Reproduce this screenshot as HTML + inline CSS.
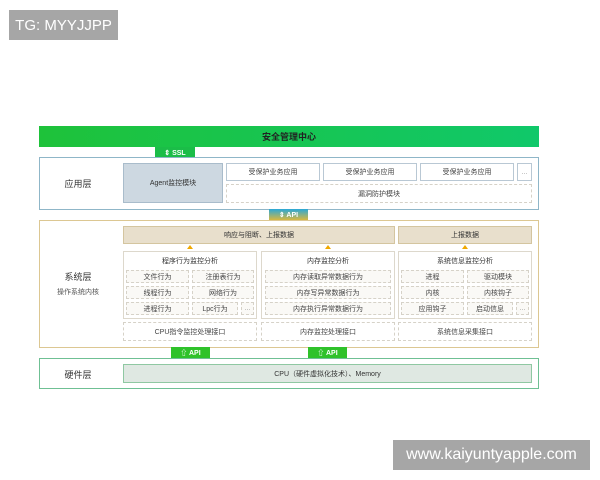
<!DOCTYPE html>
<html><head><meta charset="utf-8"><style>
*{margin:0;padding:0;box-sizing:border-box}
body{width:600px;height:480px;background:#fff;position:relative;overflow:hidden;font-family:"Liberation Sans","Noto Sans CJK SC",sans-serif;color:#333}
div{position:absolute}
.c{display:flex;align-items:center;justify-content:center;text-align:center}
.cell{border:1px dashed #d6d2c8;background:#faf9f6;font-size:7px;color:#444}
.sol{border:1px solid #b9c8d4;background:#fff;font-size:7px;color:#444}
.tab{color:#fff;font-size:7px;font-weight:bold}
.arr{width:0;height:0;border-left:3px solid transparent;border-right:3px solid transparent;border-bottom:4px solid #f0a800}
</style></head><body>
<div class="c" style="left:9px;top:10px;width:109px;height:30px;background:#a6a6a6;color:#fff;font-size:15px">TG: MYYJJPP</div>
<div class="c" style="left:393px;top:440px;width:197px;height:30px;background:#a6a6a6;color:#fff;font-size:16px">www.kaiyuntyapple.com</div>

<div class="c" style="left:39px;top:126px;width:500px;height:21px;background:linear-gradient(90deg,#1ec23a,#10c86a);font-size:9px;font-weight:bold;color:#222">安全管理中心</div>
<div class="c tab" style="left:155px;top:147px;width:40px;height:11px;background:#1bbd48">⇕ SSL</div>

<div style="left:39px;top:157px;width:500px;height:53px;border:1px solid #8fb6c8"></div>
<div class="c" style="left:50px;top:175px;width:56px;height:16px;font-size:9px">应用层</div>
<div class="c" style="left:123px;top:163px;width:100px;height:40px;background:#cdd8e1;border:1px solid #a9bccb;font-size:7px">Agent监控模块</div>
<div class="c sol" style="left:226px;top:163px;width:94px;height:18px">受保护业务应用</div>
<div class="c sol" style="left:323px;top:163px;width:94px;height:18px">受保护业务应用</div>
<div class="c sol" style="left:420px;top:163px;width:94px;height:18px">受保护业务应用</div>
<div class="c sol" style="left:517px;top:163px;width:15px;height:18px;color:#999">...</div>
<div class="c cell" style="left:226px;top:184px;width:306px;height:19px;background:#fff">漏洞防护模块</div>
<div class="c tab" style="left:269px;top:209px;width:39px;height:11px;background:linear-gradient(#2aa8d8,#d8b840)">⇕ API</div>

<div style="left:39px;top:220px;width:500px;height:128px;border:1px solid #dcc792"></div>
<div class="c" style="left:45px;top:268px;width:66px;height:16px;font-size:9px">系统层</div>
<div class="c" style="left:45px;top:285px;width:66px;height:14px;font-size:7px;color:#555">操作系统内核</div>
<div class="c" style="left:123px;top:226px;width:272px;height:18px;background:#e8dfcc;border:1px solid #d4c59f;font-size:7px">响应与阻断、上报数据</div>
<div class="c" style="left:398px;top:226px;width:134px;height:18px;background:#e8dfcc;border:1px solid #d4c59f;font-size:7px">上报数据</div>
<div class="arr" style="left:187px;top:245px"></div>
<div class="arr" style="left:325px;top:245px"></div>
<div class="arr" style="left:462px;top:245px"></div>

<div style="left:123px;top:251px;width:134px;height:68px;border:1px solid #ddd8cc"></div>
<div style="left:261px;top:251px;width:134px;height:68px;border:1px solid #ddd8cc"></div>
<div style="left:398px;top:251px;width:134px;height:68px;border:1px solid #ddd8cc"></div>
<div class="c" style="left:123px;top:255px;width:134px;height:12px;font-size:7px">程序行为监控分析</div>
<div class="c" style="left:261px;top:255px;width:134px;height:12px;font-size:7px">内存监控分析</div>
<div class="c" style="left:398px;top:255px;width:134px;height:12px;font-size:7px">系统信息监控分析</div>

<div class="c cell" style="left:126px;top:270px;width:63px;height:13px">文件行为</div>
<div class="c cell" style="left:192px;top:270px;width:62px;height:13px">注册表行为</div>
<div class="c cell" style="left:126px;top:286px;width:63px;height:13px">线程行为</div>
<div class="c cell" style="left:192px;top:286px;width:62px;height:13px">网络行为</div>
<div class="c cell" style="left:126px;top:302px;width:63px;height:13px">进程行为</div>
<div class="c cell" style="left:192px;top:302px;width:46px;height:13px">Lpc行为</div>
<div class="c cell" style="left:241px;top:302px;width:13px;height:13px;color:#999">...</div>

<div class="c cell" style="left:265px;top:270px;width:126px;height:13px">内存读取异常数据行为</div>
<div class="c cell" style="left:265px;top:286px;width:126px;height:13px">内存写异常数据行为</div>
<div class="c cell" style="left:265px;top:302px;width:126px;height:13px">内存执行异常数据行为</div>

<div class="c cell" style="left:401px;top:270px;width:63px;height:13px">进程</div>
<div class="c cell" style="left:467px;top:270px;width:62px;height:13px">驱动模块</div>
<div class="c cell" style="left:401px;top:286px;width:63px;height:13px">内核</div>
<div class="c cell" style="left:467px;top:286px;width:62px;height:13px">内核钩子</div>
<div class="c cell" style="left:401px;top:302px;width:63px;height:13px">应用钩子</div>
<div class="c cell" style="left:467px;top:302px;width:46px;height:13px">启动信息</div>
<div class="c cell" style="left:516px;top:302px;width:13px;height:13px;color:#999">...</div>

<div class="c cell" style="left:123px;top:322px;width:134px;height:19px;background:#fff">CPU指令监控处理接口</div>
<div class="c cell" style="left:261px;top:322px;width:134px;height:19px;background:#fff">内存监控处理接口</div>
<div class="c cell" style="left:398px;top:322px;width:134px;height:19px;background:#fff">系统信息采集接口</div>

<div class="c tab" style="left:171px;top:347px;width:39px;height:11px;background:#2fc22a">⇧ API</div>
<div class="c tab" style="left:308px;top:347px;width:39px;height:11px;background:#2fc22a">⇧ API</div>

<div style="left:39px;top:358px;width:500px;height:31px;border:1px solid #6fc094"></div>
<div class="c" style="left:50px;top:366px;width:56px;height:16px;font-size:9px">硬件层</div>
<div class="c" style="left:123px;top:364px;width:409px;height:19px;background:#dfe8e2;border:1px solid #8fc8a2;font-size:7px">CPU（硬件虚拟化技术）、Memory</div>
</body></html>
